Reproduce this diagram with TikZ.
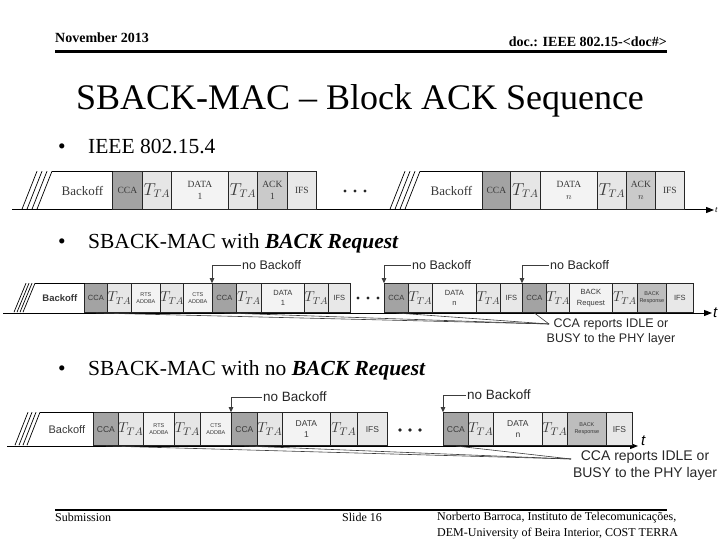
\documentclass[tikz,border=0pt]{standalone}
\usepackage{fontspec}
\setmainfont{Liberation Serif}
\setsansfont{Liberation Sans}
\usetikzlibrary{arrows.meta,calc,positioning}
\definecolor{ccagray}{HTML}{A3A3A3}
\definecolor{ttagray}{HTML}{E6E6E6}
\definecolor{datagray}{HTML}{F3F3F3}
\definecolor{ackgray}{HTML}{CACACA}
\definecolor{ifsgray}{HTML}{E8E8E8}
\definecolor{respgray}{HTML}{BDBDBD}
\definecolor{linegray}{HTML}{3C3C3C}
\newcommand{\tta}[1]{{\fontsize{#1}{#1}\selectfont$T_{TA}$}}
\tikzset{
	cell/.style={draw=black!85, line width=0.8pt, inner sep=0pt, anchor=south west, align=center, text=black!78},
	rowA/.style={cell, minimum height=38pt, font=\fontsize{9.5}{12.5}\selectfont},
	rowB/.style={cell, minimum height=29pt, font=\sffamily\fontsize{7.5}{10.5}\selectfont},
	rowC/.style={cell, minimum height=33pt, font=\sffamily\fontsize{8.5}{11.5}\selectfont},
	lnm/.style={},
	lsm/.style={font=\sffamily\fontsize{5.5}{7}\selectfont},
	axis/.style={line width=1pt, -{Triangle[length=8pt,width=6pt]}},
	hint/.style={linegray, line width=0.7pt, -{Triangle[length=5pt,width=4.5pt]}},
	report/.style={linegray, line width=0.6pt}
}
\begin{document}
\begin{tikzpicture}[x=1pt,y=-1pt,
		nolab/.style={font=\sffamily\fontsize{12.5}{14}\selectfont, anchor=west, inner sep=1pt, text=black!85},
		reptext/.style={font=\sffamily\fontsize{12.5}{15}\selectfont, align=center, inner sep=0pt, text=black!85},
		hatch/.style={line width=0.7pt}
	]
	\useasboundingbox (0,0) rectangle (720,540);
	% header and title
	\node[font=\bfseries\fontsize{14}{14}\selectfont, anchor=base west, inner sep=0pt] (hdl) at (55,43) {November 2013};
	\node[font=\bfseries\fontsize{14}{14}\selectfont, anchor=base east, inner sep=0pt] (hdr) at (667,47) {doc.: IEEE 802.15-<doc\#>};
	\draw[line width=3pt] (55,52) -- (667,52);
	\node[font=\fontsize{36}{36}\selectfont, anchor=base, inner sep=0pt] (ttl) at (360,110) {SBACK-MAC – Block ACK Sequence};
	
	% bullet 1: IEEE 802.15.4
	\node[font=\fontsize{21.5}{22}\selectfont, anchor=base west, inner sep=0pt] (u1) at (58,154) {•};
	\node[font=\fontsize{21.5}{22}\selectfont, anchor=base west, inner sep=0pt] (b1) at (88,154) {IEEE 802.15.4};
	\coordinate (axA0) at (12,210);
	\coordinate (axA1) at (714,210);
	\draw[axis] (axA0) -- (axA1);
	\node[font=\itshape\fontsize{9}{9}\selectfont, anchor=west, inner sep=1pt] (tA) at (axA1) {t};
	\node[rowA, draw=none, minimum width=60pt, font=\fontsize{13}{13}\selectfont] (ra0) at (52,210) {Backoff};
	\node[rowA, draw=none, minimum width=62pt, font=\fontsize{13}{13}\selectfont] (rb0) at (420,210) {Backoff};
	\foreach \nm/\xa/\xb/\fc/\lb in {
		ra1/112/142/ccagray/CCA, ra2/142/171/ttagray/{\tta{16}}, ra3/171/228/datagray/{DATA\\1},
		ra4/228/257/ttagray/{\tta{16}}, ra5/257/287/ackgray/{ACK\\1}, ra6/287/316/ifsgray/IFS,
		rb1/482/510/ccagray/CCA, rb2/510/540/ttagray/{\tta{16}}, rb3/540/597/datagray/{DATA\\$n$},
		rb4/597/626/ttagray/{\tta{16}}, rb5/626/655/ackgray/{ACK\\$n$}, rb6/655/684/ifsgray/IFS}
		\node[rowA, fill=\fc, minimum width={(\xb-\xa)*1pt}] (\nm) at (\xa,210) {\lb};
	\foreach \b in {ra0,rb0} {
		\draw[line width=0.8pt] (\b.north west) -- (\b.north east);
		\foreach \k in {0,...,3}
			\draw[hatch] ($(\b.north west)+(-5*\k,0)$) -- ++(-15,38);
	}
	\foreach \i in {0,1,2}
		\fill[black!85] (345+10*\i,191) circle (1.6pt);
	
	% bullet 2: SBACK-MAC with BACK Request
	\node[font=\fontsize{21.5}{22}\selectfont, anchor=base west, inner sep=0pt] (u2) at (58,248) {•};
	\node[font=\fontsize{21.5}{22}\selectfont, anchor=base west, inner sep=0pt] (b2) at (88,248) {SBACK-MAC with \textbf{\textit{BACK Request}}};
	\coordinate (axB0) at (3,313);
	\coordinate (axB1) at (712,313);
	\draw[axis] (axB0) -- (axB1);
	\node[font=\sffamily\itshape\fontsize{15}{15}\selectfont, anchor=west, inner sep=1pt] (tB) at (axB1) {t};
	\node[rowB, draw=none, minimum width=49pt, font=\sffamily\bfseries\fontsize{9.5}{10}\selectfont] (sa0) at (35,313) {Backoff};
	\foreach \nm/\xa/\xb/\fc/\st/\lb in {
		sa1/84/107/ccagray/lnm/CCA, sa2/107/131/ttagray/lnm/{\tta{14}}, sa3/131/160/datagray/lsm/{RTS\\ADDBA},
		sa4/160/183/ttagray/lnm/{\tta{14}}, sa5/183/212/datagray/lsm/{CTS\\ADDBA}, sa6/212/236/ccagray/lnm/CCA,
		sa7/236/261/ttagray/lnm/{\tta{14}}, sa8/261/304/datagray/lnm/{DATA\\1}, sa9/304/328/ttagray/lnm/{\tta{14}},
		sa10/328/350/ifsgray/lnm/IFS,
		sb1/384/408/ccagray/lnm/CCA, sb2/408/432/ttagray/lnm/{\tta{14}}, sb3/432/476/datagray/lnm/{DATA\\n},
		sb4/476/500/ttagray/lnm/{\tta{14}}, sb5/500/522/ifsgray/lnm/IFS, sb6/522/546/ccagray/lnm/CCA,
		sb7/546/569/ttagray/lnm/{\tta{14}}, sb8/569/612/datagray/lnm/{BACK\\Request}, sb9/612/637/ttagray/lnm/{\tta{14}},
		sb10/637/666/respgray/lsm/{BACK\\Response}, sb11/666/693/ifsgray/lnm/IFS}
		\node[rowB, fill=\fc, minimum width={(\xb-\xa)*1pt}, \st] (\nm) at (\xa,313) {\lb};
	\draw[line width=0.8pt] (sa0.north west) -- (sa0.north east);
	\foreach \k in {0,...,3}
		\draw[hatch] ($(sa0.north west)+(-3*\k,0)$) -- ++(-12,29);
	\foreach \i in {0,1,2}
		\fill[black!85] (358+10*\i,298) circle (1.6pt);
	\node[nolab] (nb1) at (241,265) {no Backoff};
	\node[nolab] (nb2) at (411,265) {no Backoff};
	\node[nolab] (nb3) at (549,265) {no Backoff};
	\draw[hint] (nb1.west) -| (sa6.north west);
	\draw[hint] (nb2.west) -| (sb1.north west);
	\draw[hint] (nb3.west) -| (sb6.north west);
	\coordinate (rq2) at (549,324);
	\node[reptext] (rt2) at (611,332) {CCA reports IDLE or\\BUSY to the PHY layer};
	\foreach \c in {sa1,sa6,sb1,sb6}
		\draw[report] (\c.south) -- (rq2);
	
	% bullet 3: SBACK-MAC with no BACK Request
	\node[font=\fontsize{21.5}{22}\selectfont, anchor=base west, inner sep=0pt] (u3) at (58,375) {•};
	\node[font=\fontsize{21.5}{22}\selectfont, anchor=base west, inner sep=0pt] (b3) at (88,375) {SBACK-MAC with no \textbf{\textit{BACK Request}}};
	\coordinate (axC0) at (7,446);
	\coordinate (axC1) at (638,446);
	\draw[axis] (axC0) -- (axC1);
	\node[font=\sffamily\itshape\fontsize{15}{15}\selectfont, anchor=west, inner sep=1pt] (tC) at (640,441) {t};
	\node[rowC, draw=none, minimum width=53pt, font=\sffamily\fontsize{11}{11}\selectfont] (ta0) at (40,446) {Backoff};
	\foreach \nm/\xa/\xb/\fc/\st/\lb in {
		ta1/93/118/ccagray/lnm/CCA, ta2/118/143/ttagray/lnm/{\tta{15}}, ta3/143/174/datagray/lsm/{RTS\\ADDBA},
		ta4/174/200/ttagray/lnm/{\tta{15}}, ta5/200/231/datagray/lsm/{CTS\\ADDBA}, ta6/231/257/ccagray/lnm/CCA,
		ta7/257/282/ttagray/lnm/{\tta{15}}, ta8/282/330/datagray/lnm/{DATA\\1}, ta9/330/357/ttagray/lnm/{\tta{15}},
		ta10/357/387/ifsgray/lnm/IFS,
		tb1/443/468/ccagray/lnm/CCA, tb2/468/493/ttagray/lnm/{\tta{15}}, tb3/493/542/datagray/lnm/{DATA\\n},
		tb4/542/567/ttagray/lnm/{\tta{15}}, tb5/567/606/respgray/lsm/{BACK\\Response}, tb6/606/632/ifsgray/lnm/IFS}
		\node[rowC, fill=\fc, minimum width={(\xb-\xa)*1pt}, \st] (\nm) at (\xa,446) {\lb};
	\draw[line width=0.8pt] (ta0.north west) -- (ta0.north east);
	\foreach \k in {0,...,3}
		\draw[hatch] ($(ta0.north west)+(-4*\k,0)$) -- ++(-13,33);
	\foreach \i in {0,1,2}
		\fill[black!85] (400+10*\i,430) circle (1.8pt);
	\node[nolab, font=\sffamily\fontsize{13.5}{15}\selectfont] (nb4) at (262,397) {no Backoff};
	\node[nolab, font=\sffamily\fontsize{13.5}{15}\selectfont] (nb5) at (466,395) {no Backoff};
	\draw[hint] (nb4.west) -| (ta6.north west);
	\draw[hint] (nb5.west) -| (tb1.north west);
	\coordinate (rq3) at (571,459);
	\node[reptext, font=\sffamily\fontsize{14}{17}\selectfont] (rt3) at (645,466) {CCA reports IDLE or\\BUSY to the PHY layer};
	\foreach \c in {ta1,ta6,tb1}
		\draw[report] (\c.south) -- (rq3);
	
	% footer
	\draw[line width=2pt] (55,510) -- (667,510);
	\node[font=\fontsize{12}{12}\selectfont, anchor=base west, inner sep=0pt] (sub) at (55,521) {Submission};
	\node[font=\fontsize{12}{12}\selectfont, anchor=base west, inner sep=0pt] (sld) at (342,521) {Slide 16};
	\node[font=\fontsize{12}{16}\selectfont, anchor=north west, inner sep=0pt, align=left] (aut) at (437,512) {Norberto Barroca, Instituto de Telecomunicações,\\DEM-University of Beira Interior, COST TERRA};
\end{tikzpicture}
\end{document}
